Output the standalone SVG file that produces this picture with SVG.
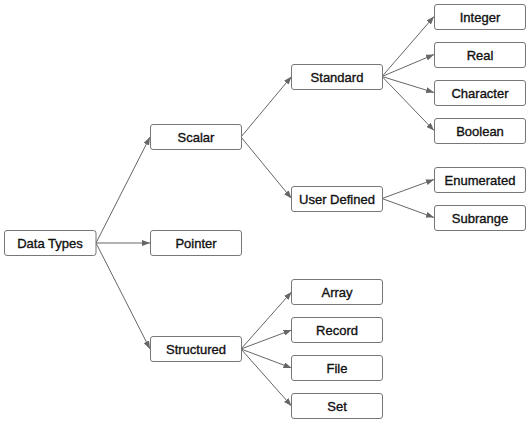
<svg xmlns="http://www.w3.org/2000/svg" width="529" height="422" viewBox="0 0 529 422">
<style>
.n rect{fill:#fff;stroke:#777;stroke-width:1;}
.n text{font-family:"Liberation Sans",Arial,sans-serif;font-size:13px;fill:#111;stroke:#111;stroke-width:0.35;text-anchor:middle;dominant-baseline:central;}
#edges line{stroke:#666;stroke-width:1;marker-end:url(#ah);}
</style>
<defs>
<marker id="ah" viewBox="0 0 8 6" refX="8" refY="3" markerWidth="8" markerHeight="6" markerUnits="userSpaceOnUse" orient="auto">
<path d="M0,0 L8,3 L0,6 Z" fill="#666"/>
</marker>
</defs>
<rect width="529" height="422" fill="#fff"/>
<g id="edges">
<line x1="96" y1="243" x2="150" y2="137"/>
<line x1="96" y1="243" x2="150" y2="243"/>
<line x1="96" y1="243" x2="150" y2="349"/>
<line x1="241" y1="137" x2="291.5" y2="76.5"/>
<line x1="241" y1="137" x2="291.5" y2="198.5"/>
<line x1="382" y1="76.5" x2="434" y2="16.5"/>
<line x1="382" y1="76.5" x2="434" y2="54.5"/>
<line x1="382" y1="76.5" x2="434" y2="92.5"/>
<line x1="382" y1="76.5" x2="434" y2="130.5"/>
<line x1="382" y1="198.5" x2="434" y2="179.5"/>
<line x1="382" y1="198.5" x2="434" y2="217.5"/>
<line x1="241" y1="349" x2="291.5" y2="292"/>
<line x1="241" y1="349" x2="291.5" y2="330"/>
<line x1="241" y1="349" x2="291.5" y2="368"/>
<line x1="241" y1="349" x2="291.5" y2="406"/>
</g>
<g id="datatypes" class="n"><rect x="4.5" y="230.5" width="91.5" height="25" rx="2.5"/><text x="50" y="243">Data Types</text></g>
<g id="scalar" class="n"><rect x="150.5" y="124.5" width="91" height="25" rx="2.5"/><text x="196" y="137">Scalar</text></g>
<g id="pointer" class="n"><rect x="150.5" y="230.5" width="91" height="25" rx="2.5"/><text x="196" y="243">Pointer</text></g>
<g id="structured" class="n"><rect x="150.5" y="336.5" width="91" height="25" rx="2.5"/><text x="196" y="349">Structured</text></g>
<g id="standard" class="n"><rect x="291.5" y="64.5" width="91" height="25" rx="2.5"/><text x="337" y="77">Standard</text></g>
<g id="userdefined" class="n"><rect x="291.5" y="186.5" width="91" height="25" rx="2.5"/><text x="337" y="199">User Defined</text></g>
<g id="integer" class="n"><rect x="434.5" y="4.5" width="91" height="25" rx="2.5"/><text x="480" y="17">Integer</text></g>
<g id="real" class="n"><rect x="434.5" y="42.5" width="91" height="25" rx="2.5"/><text x="480" y="55">Real</text></g>
<g id="character" class="n"><rect x="434.5" y="80.5" width="91" height="25" rx="2.5"/><text x="480" y="93">Character</text></g>
<g id="boolean" class="n"><rect x="434.5" y="118.5" width="91" height="25" rx="2.5"/><text x="480" y="131">Boolean</text></g>
<g id="enumerated" class="n"><rect x="434.5" y="167.5" width="91" height="25" rx="2.5"/><text x="480" y="180">Enumerated</text></g>
<g id="subrange" class="n"><rect x="434.5" y="205.5" width="91" height="25" rx="2.5"/><text x="480" y="218">Subrange</text></g>
<g id="array" class="n"><rect x="291.5" y="279.5" width="91" height="25" rx="2.5"/><text x="337" y="292">Array</text></g>
<g id="record" class="n"><rect x="291.5" y="317.5" width="91" height="25" rx="2.5"/><text x="337" y="330">Record</text></g>
<g id="file" class="n"><rect x="291.5" y="355.5" width="91" height="25" rx="2.5"/><text x="337" y="368">File</text></g>
<g id="set" class="n"><rect x="291.5" y="393.5" width="91" height="25" rx="2.5"/><text x="337" y="406">Set</text></g>
</svg>
